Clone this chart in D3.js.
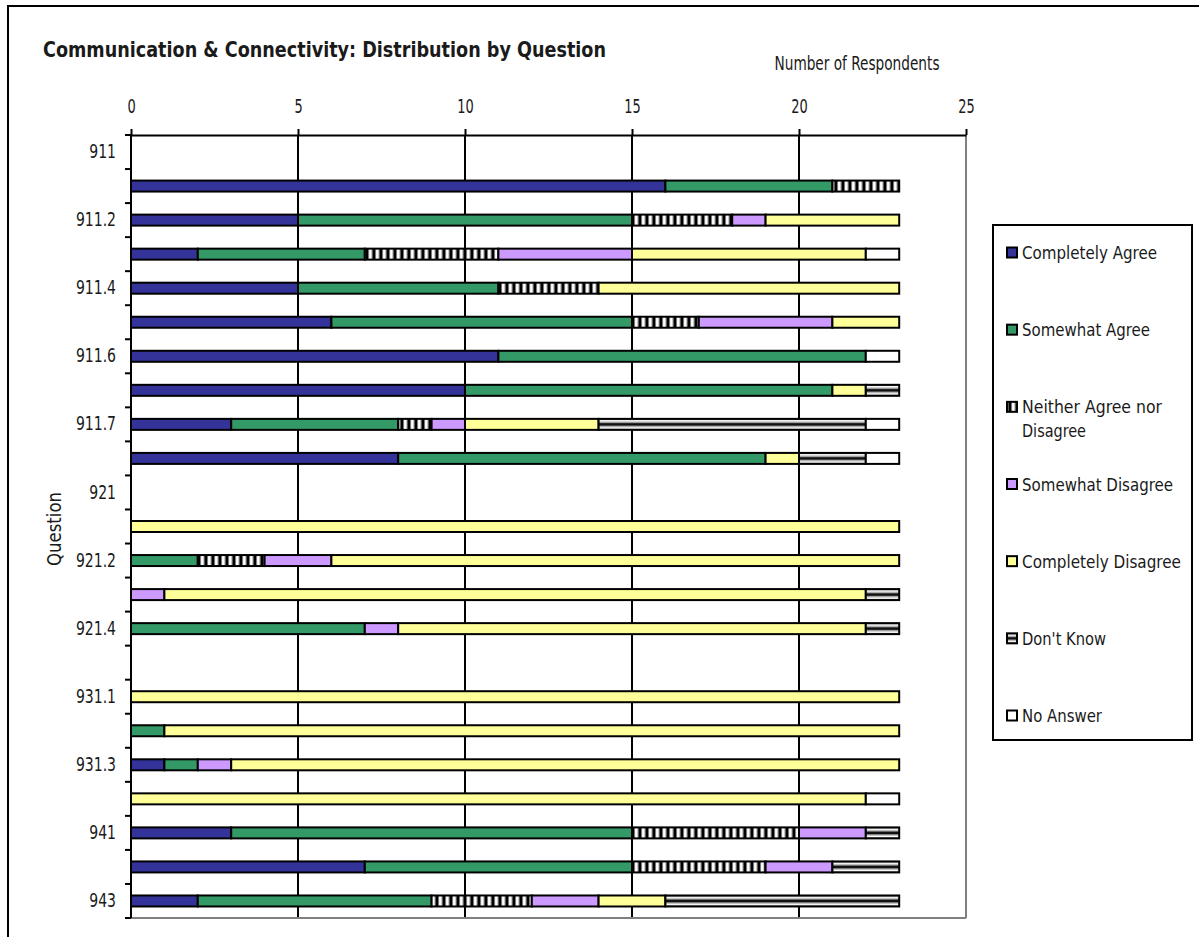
<!DOCTYPE html>
<html>
<head>
<meta charset="utf-8">
<script src="https://cdn.jsdelivr.net/npm/d3@7"></script>
<style>
  html, body { margin: 0; padding: 0; background: #fff; }
  svg { display: block; }
</style>
</head>
<body>
<div id="chart"></div>
<script>
// Survey questions, top to bottom (only every other name is printed on the axis)
const questions = ["911","911.1","911.2","911.3","911.4","911.5","911.6","911.6b","911.7","911.8",
                   "921","921.1","921.2","921.3","921.4","921.5","931.1","931.2","931.3","931.4",
                   "941","942","943"];

// Response categories, in stacking order
const responses = ["Completely Agree","Somewhat Agree","Neither Agree nor Disagree",
                   "Somewhat Disagree","Completely Disagree","Don't Know","No Answer"];

// Respondent counts per question for each response
const completelyAgree    = [0,16,5,2,5,6,11,10,3,8,0,0,0,0,0,0,0,0,1,0,3,7,2];
const somewhatAgree      = [0,5,10,5,6,9,11,11,5,11,0,0,2,0,7,0,0,1,1,0,12,8,7];
const neitherAgree       = [0,2,3,4,3,2,0,0,1,0,0,0,2,0,0,0,0,0,0,0,5,4,3];
const somewhatDisagree   = [0,0,1,4,0,4,0,0,1,0,0,0,2,1,1,0,0,0,1,0,2,2,2];
const completelyDisagree = [0,0,4,7,9,2,0,1,4,1,0,23,17,21,14,0,23,22,20,22,0,0,2];
const dontKnow           = [0,0,0,0,0,0,0,1,8,2,0,0,0,1,1,0,0,0,0,0,1,2,7];
const noAnswer           = [0,0,0,1,0,0,1,0,1,1,0,0,0,0,0,0,0,0,0,1,0,0,0];

// Axis ticks
const xTicks = [0,5,10,15,20,25];

const seriesValues = [completelyAgree, somewhatAgree, neitherAgree, somewhatDisagree,
                      completelyDisagree, dontKnow, noAnswer];

const rows = questions.map((q, i) => {
  const r = { question: q };
  responses.forEach((k, j) => { r[k] = seriesValues[j][i]; });
  return r;
});

const W = 1199, H = 937;
const FONT = "'DejaVu Sans Condensed','DejaVu Sans',sans-serif";
const TEXT = "#1a1a1a";

const svg = d3.select("#chart").append("svg")
  .attr("width", W).attr("height", H)
  .style("font-family", FONT);

// Squeeze text horizontally by a factor, keeping its height (narrow face look)
function condense(sel, factor) {
  sel.each(function() {
    const len = this.getComputedTextLength();
    if (len > 0) d3.select(this).attr("textLength", len * factor).attr("lengthAdjust", "spacingAndGlyphs");
  });
}

const defs = svg.append("defs");

// Vertical black/white stripes for "Neither Agree nor Disagree"
const vg = defs.append("linearGradient").attr("id", "vstripeGrad")
  .attr("x1", "0").attr("x2", "1").attr("y1", "0").attr("y2", "0");
[[0,"#ffffff"],[0.18,"#777"],[0.32,"#000"],[0.52,"#000"],[0.66,"#888"],[0.8,"#fff"],[1,"#fff"]]
  .forEach(([o, c]) => vg.append("stop").attr("offset", o).attr("stop-color", c));
const vp = defs.append("pattern").attr("id", "vstripe")
  .attr("patternUnits", "userSpaceOnUse").attr("width", 7).attr("height", 20);
vp.append("rect").attr("width", 7).attr("height", 20).attr("fill", "url(#vstripeGrad)");

// Horizontal shaded band for "Don't Know"
const hg = defs.append("linearGradient").attr("id", "hband")
  .attr("x1", "0").attr("x2", "0").attr("y1", "0").attr("y2", "1");
[[0,"#222"],[0.16,"#fff"],[0.32,"#aaa"],[0.44,"#111"],[0.56,"#111"],[0.68,"#aaa"],[0.84,"#fff"],[1,"#222"]]
  .forEach(([o, c]) => hg.append("stop").attr("offset", o).attr("stop-color", c));

const fills = {
  "Completely Agree": "#333399",
  "Somewhat Agree": "#339966",
  "Neither Agree nor Disagree": "url(#vstripe)",
  "Somewhat Disagree": "#CC99FF",
  "Completely Disagree": "#FFFF99",
  "Don't Know": "url(#hband)",
  "No Answer": "#ffffff"
};

// Outer frame
svg.append("rect").attr("x", 8).attr("y", 6).attr("width", 1300).attr("height", 1000)
  .attr("fill", "none").attr("stroke", "#000").attr("stroke-width", 2);

// Title
svg.append("text").attr("x", 43).attr("y", 57)
  .attr("font-size", 21).attr("font-weight", "bold").attr("fill", TEXT)
  .attr("textLength", 563).attr("lengthAdjust", "spacingAndGlyphs")
  .text("Communication & Connectivity: Distribution by Question");

const plotLeft = 131, plotRight = 966, plotTop = 135, plotBottom = 918;
const x = d3.scaleLinear().domain([0, 25]).range([plotLeft, plotRight]);
const y = d3.scaleBand().domain(questions).range([plotTop, plotBottom]).padding(0);
const barH = 11;

// Axis title
svg.append("text").attr("x", 857).attr("y", 70).attr("text-anchor", "middle")
  .attr("font-size", 20).attr("textLength", 165).attr("lengthAdjust", "spacingAndGlyphs")
  .attr("fill", TEXT)
  .text("Number of Respondents");

// Vertical gridlines
svg.append("g").selectAll("line").data(xTicks.filter(d => d > 0 && d < 25)).join("line")
  .attr("x1", d => x(d)).attr("x2", d => x(d))
  .attr("y1", plotTop).attr("y2", plotBottom)
  .attr("stroke", "#000").attr("stroke-width", 2);

// Plot frame edges (right and bottom in grey)
svg.append("line").attr("x1", x(25)).attr("x2", x(25)).attr("y1", plotTop).attr("y2", plotBottom)
  .attr("stroke", "#808080").attr("stroke-width", 2);
svg.append("line").attr("x1", plotLeft).attr("x2", plotRight).attr("y1", plotBottom).attr("y2", plotBottom)
  .attr("stroke", "#808080").attr("stroke-width", 2);

// Stacked bars
const stacked = d3.stack().keys(responses)(rows);
svg.append("g").selectAll("g").data(stacked).join("g")
  .attr("fill", d => fills[d.key])
  .selectAll("rect")
  .data(d => d.filter(s => s[1] - s[0] > 0))
  .join("rect")
  .attr("x", s => x(s[0]))
  .attr("width", s => x(s[1]) - x(s[0]))
  .attr("y", s => y(s.data.question) + y.bandwidth() / 2 - barH / 2)
  .attr("height", barH)
  .attr("stroke", "#000").attr("stroke-width", 2);

// Top axis
const xAxis = svg.append("g").attr("transform", `translate(0,${plotTop})`)
  .call(d3.axisTop(x).tickValues(xTicks).tickSize(6).tickPadding(16).tickSizeOuter(0));
xAxis.select(".domain").attr("stroke-width", 2);
xAxis.selectAll(".tick line").attr("stroke-width", 2);
xAxis.selectAll("text").attr("font-size", 20).attr("fill", TEXT)
  .style("font-family", FONT).call(condense, 0.72);

// Left axis: labels on every other question, ticks at band boundaries
const yAxis = svg.append("g").attr("transform", `translate(${plotLeft},0)`)
  .call(d3.axisLeft(y).tickSize(0).tickPadding(15)
    .tickFormat((d, i) => i % 2 === 0 ? d : ""));
yAxis.select(".domain").attr("stroke-width", 2).attr("d", `M0,${plotTop}V${plotBottom}`);
yAxis.selectAll("text").attr("font-size", 19).attr("fill", TEXT)
  .style("font-family", FONT).call(condense, 0.82);
const boundaries = questions.map(q => y(q)).concat([plotBottom]);
yAxis.append("g").selectAll("line").data(boundaries).join("line")
  .attr("x1", -6).attr("x2", 0).attr("y1", d => d).attr("y2", d => d)
  .attr("stroke", "#000").attr("stroke-width", 2);

// Y axis title
svg.append("text").attr("transform", "translate(61,529) rotate(-90)")
  .attr("text-anchor", "middle").attr("font-size", 20)
  .attr("textLength", 74).attr("lengthAdjust", "spacingAndGlyphs")
  .attr("fill", TEXT)
  .text("Question");

// Legend
const lg = svg.append("g");
lg.append("rect").attr("x", 993).attr("y", 225).attr("width", 199).attr("height", 515)
  .attr("fill", "#fff").attr("stroke", "#000").attr("stroke-width", 2);
const legendY = d3.scalePoint().domain(responses).range([253, 716]);
const legendWidths = {
  "Completely Agree": 135, "Somewhat Agree": 128, "Neither Agree nor Disagree": 140,
  "Somewhat Disagree": 151, "Completely Disagree": 159, "Don't Know": 84, "No Answer": 80
};
const items = lg.selectAll("g.item").data(responses).join("g").attr("class", "item")
  .attr("transform", d => `translate(1007,${legendY(d)})`);
items.append("rect").attr("x", 0).attr("y", -5.5).attr("width", 10).attr("height", 10)
  .attr("fill", d => fills[d])
  .attr("stroke", "#000").attr("stroke-width", 2);
items.each(function(d) {
  const g = d3.select(this);
  if (d === "Neither Agree nor Disagree") {
    g.append("text").attr("x", 15).attr("y", 6).attr("font-size", 18).attr("fill", TEXT)
      .attr("textLength", 140).attr("lengthAdjust", "spacingAndGlyphs").text("Neither Agree nor");
    g.append("text").attr("x", 15).attr("y", 30).attr("font-size", 18).attr("fill", TEXT)
      .attr("textLength", 64).attr("lengthAdjust", "spacingAndGlyphs").text("Disagree");
  } else {
    g.append("text").attr("x", 15).attr("y", 6).attr("font-size", 18).attr("fill", TEXT)
      .attr("textLength", legendWidths[d]).attr("lengthAdjust", "spacingAndGlyphs").text(d);
  }
});
</script>
</body>
</html>
